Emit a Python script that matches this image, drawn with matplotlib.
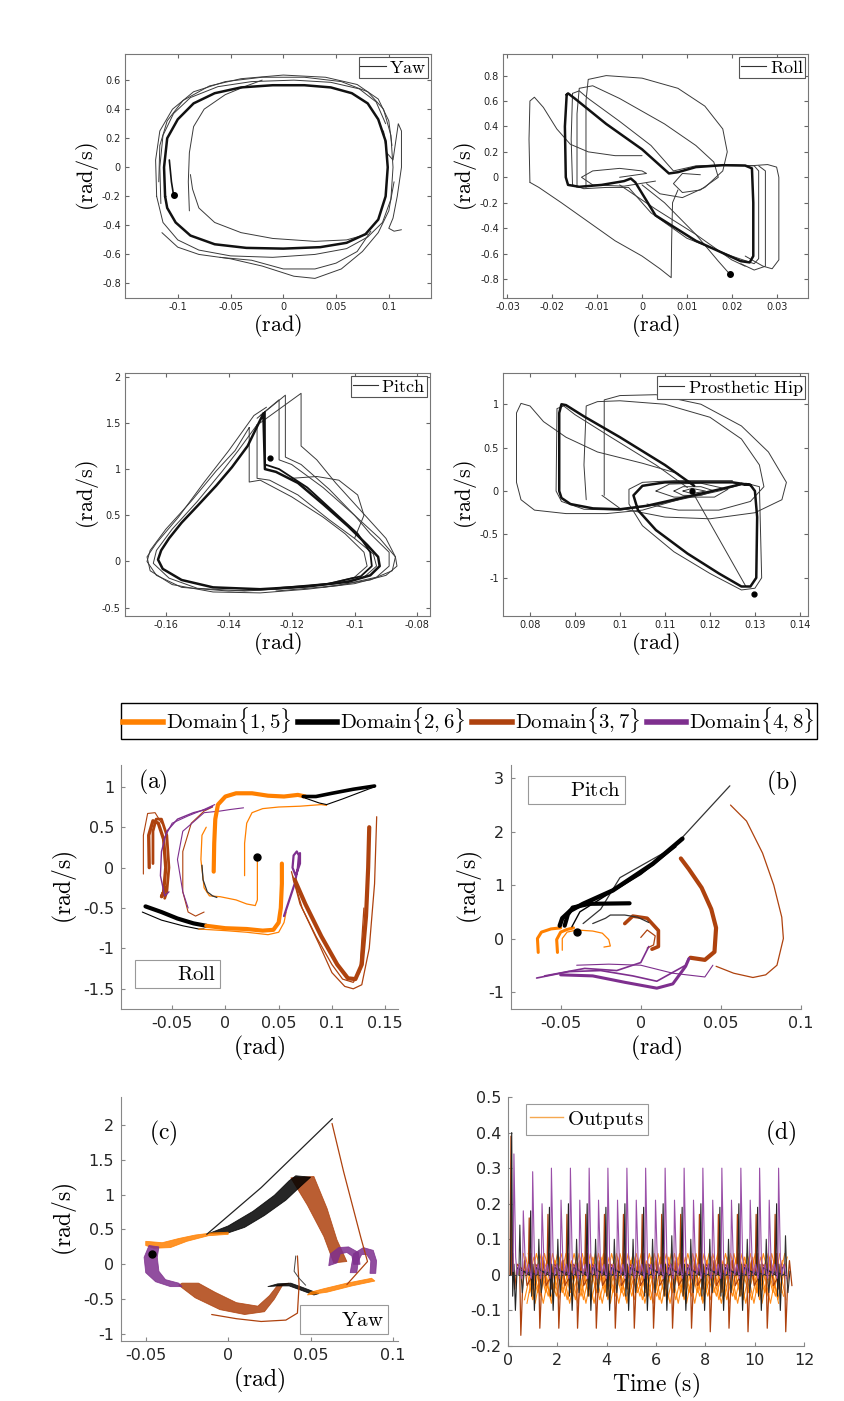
import numpy as np
import matplotlib
matplotlib.use("Agg")
import matplotlib.pyplot as plt
from matplotlib.lines import Line2D
from matplotlib.ticker import FormatStrFormatter

plt.rcParams['mathtext.fontset'] = 'cm'
plt.rcParams['font.family'] = ['DejaVu Sans']

ORANGE = '#FF8000'
BLACK = '#000000'
BROWN = '#AE420E'
PURPLE = '#7E2F8E'
GRAY = '#3a3a3a'

# ---------------- top: yaw phase portrait ----------------
yaw_main = [(-0.112, -0.2), (-0.113, 0.0), (-0.110, 0.2), (-0.100, 0.33), (-0.085, 0.44), (-0.065, 0.51),
            (-0.040, 0.55), (-0.010, 0.565), (0.020, 0.565), (0.045, 0.55), (0.065, 0.51), (0.080, 0.44),
            (0.090, 0.33), (0.097, 0.18), (0.099, 0.0), (0.097, -0.2), (0.090, -0.36), (0.078, -0.46),
            (0.060, -0.52), (0.035, -0.55), (0.000, -0.56), (-0.035, -0.555), (-0.065, -0.53),
            (-0.088, -0.47), (-0.102, -0.38), (-0.110, -0.28), (-0.112, -0.2)]
yaw_outer1 = [(-0.120, -0.2), (-0.121, 0.05), (-0.117, 0.25), (-0.105, 0.40), (-0.085, 0.52), (-0.055, 0.59),
              (-0.020, 0.62), (0.020, 0.62), (0.055, 0.59), (0.080, 0.52), (0.095, 0.40), (0.102, 0.22),
              (0.104, 0.0), (0.102, -0.22), (0.094, -0.38), (0.080, -0.48), (0.060, -0.56), (0.030, -0.60),
              (-0.010, -0.62), (-0.050, -0.61), (-0.080, -0.57), (-0.100, -0.50), (-0.114, -0.38), (-0.120, -0.2)]
yaw_outer2 = [(-0.118, -0.1), (-0.117, 0.15), (-0.110, 0.32), (-0.095, 0.46), (-0.070, 0.56), (-0.040, 0.61),
              (0.000, 0.635), (0.040, 0.62), (0.070, 0.57), (0.090, 0.47), (0.100, 0.32), (0.103, 0.15)]
yaw_outer3 = [(-0.116, -0.25), (-0.117, 0.0), (-0.114, 0.22), (-0.104, 0.37), (-0.088, 0.48), (-0.062, 0.555),
              (-0.030, 0.59), (0.010, 0.60), (0.045, 0.585), (0.072, 0.54), (0.088, 0.45), (0.097, 0.30)]
yaw_spur = [(0.095, 0.25), (0.098, 0.1), (0.104, 0.05), (0.107, 0.2), (0.109, 0.3), (0.112, 0.25), (0.112, 0.0),
            (0.108, -0.2), (0.104, -0.35), (0.100, -0.42), (0.105, -0.44), (0.112, -0.43)]
yaw_dip1 = [(0.105, -0.1), (0.100, -0.3), (0.090, -0.45), (0.075, -0.58), (0.055, -0.70), (0.030, -0.765),
            (0.010, -0.75), (-0.020, -0.68), (-0.050, -0.63), (-0.080, -0.60), (-0.100, -0.55), (-0.115, -0.45)]
yaw_dip2 = [(0.083, -0.44), (0.070, -0.58), (0.050, -0.66), (0.030, -0.70), (0.000, -0.70), (-0.030, -0.64),
            (-0.060, -0.62)]
yaw_inner_up = [(-0.089, -0.30), (-0.090, -0.1), (-0.089, 0.1), (-0.085, 0.28), (-0.075, 0.40), (-0.055, 0.50),
                (-0.035, 0.56), (-0.020, 0.60)]
yaw_inner_down = [(-0.088, -0.05), (-0.086, -0.15), (-0.080, -0.28), (-0.065, -0.38), (-0.040, -0.45),
                  (-0.010, -0.49), (0.030, -0.51), (0.060, -0.50), (0.080, -0.46)]
yaw_start = [(-0.104, -0.19), (-0.106, -0.1), (-0.108, 0.05)]
yaw_dot = (-0.104, -0.19)

# ---------------- top: roll phase portrait ----------------
roll_main = [(-0.0168, 0.65), (-0.0165, 0.66), (-0.015, 0.62), (-0.008, 0.42), (0.0, 0.22), (0.006, 0.03),
             (0.008, 0.04), (0.012, 0.08), (0.018, 0.095), (0.023, 0.092), (0.0245, 0.07), (0.0248, -0.2),
             (0.0248, -0.62), (0.024, -0.67), (0.022, -0.66), (0.012, -0.5), (0.003, -0.3), (-0.0015, -0.04),
             (-0.0025, -0.01), (-0.004, -0.03), (-0.009, -0.06), (-0.014, -0.075), (-0.0165, -0.06),
             (-0.017, 0.0), (-0.0172, 0.4), (-0.0168, 0.65)]
roll_loop2 = [(-0.0155, 0.66), (-0.014, 0.68), (-0.012, 0.62), (-0.005, 0.44), (0.002, 0.25), (0.007, 0.05),
              (0.012, 0.09), (0.020, 0.10), (0.025, 0.09), (0.026, 0.05), (0.026, -0.64), (0.025, -0.68),
              (0.020, -0.62), (0.010, -0.48), (0.002, -0.28), (-0.003, -0.08), (-0.008, -0.08),
              (-0.013, -0.09), (-0.0155, -0.06), (-0.0158, 0.3), (-0.0155, 0.66)]
roll_arc1 = [(-0.0145, -0.08), (-0.0145, 0.5), (-0.014, 0.70), (-0.011, 0.72), (-0.005, 0.62), (0.005, 0.42),
             (0.012, 0.25), (0.016, 0.12), (0.017, 0.0), (0.013, -0.1), (0.009, -0.12), (0.007, -0.05),
             (0.009, 0.03), (0.013, 0.02)]
roll_arc2 = [(-0.0125, -0.08), (-0.0125, 0.6), (-0.012, 0.77), (-0.008, 0.80), (0.0, 0.78), (0.008, 0.70),
             (0.014, 0.56), (0.018, 0.38), (0.019, 0.2), (0.018, 0.05), (0.014, -0.08), (0.009, -0.16),
             (0.004, -0.13), (0.001, -0.05)]
roll_left = [(-0.025, -0.04), (-0.0252, 0.3), (-0.025, 0.6), (-0.024, 0.63), (-0.022, 0.55), (-0.019, 0.38),
             (-0.016, 0.26), (-0.012, 0.2), (-0.006, 0.17), (0.0, 0.17)]
roll_drop = [(-0.025, -0.04), (-0.023, -0.08), (-0.018, -0.2), (-0.012, -0.35), (-0.006, -0.5), (0.0, -0.62),
             (0.004, -0.72), (0.0065, -0.79), (0.0066, -0.5), (0.0068, -0.2), (0.008, -0.1)]
roll_ellipse = [(-0.005, 0.0), (0.001, 0.03), (0.0, 0.05), (-0.005, 0.07), (-0.011, 0.05), (-0.0135, 0.0),
                (-0.011, -0.06), (-0.004, -0.07), (0.003, -0.03)]
roll_right1 = [(0.024, 0.09), (0.028, 0.10), (0.030, 0.08), (0.0305, 0.0), (0.0305, -0.65), (0.029, -0.72),
               (0.027, -0.70), (0.023, -0.62)]
roll_right2 = [(0.026, 0.09), (0.0275, 0.05), (0.0275, -0.70), (0.025, -0.73), (0.022, -0.68)]
roll_lower = [(-0.005, -0.06), (0.003, -0.25), (0.012, -0.45), (0.020, -0.65), (0.023, -0.70)]
roll_tail = [(0.0, -0.06), (0.005, -0.2), (0.012, -0.45), (0.017, -0.66), (0.0195, -0.76)]
roll_dot = (0.0195, -0.76)

# ---------------- top: pitch phase portrait ----------------
pitch_main = [(-0.129, 1.6), (-0.1285, 1.0), (-0.125, 0.97), (-0.118, 0.85), (-0.110, 0.62), (-0.102, 0.38),
              (-0.096, 0.18), (-0.0925, 0.05), (-0.092, -0.05), (-0.095, -0.15), (-0.102, -0.22),
              (-0.115, -0.27), (-0.130, -0.30), (-0.145, -0.28), (-0.155, -0.2), (-0.161, -0.08),
              (-0.1625, 0.02), (-0.1615, 0.12), (-0.159, 0.25), (-0.155, 0.42), (-0.150, 0.6),
              (-0.144, 0.82), (-0.139, 1.02), (-0.134, 1.25), (-0.129, 1.6)]
pitch_b = [(-0.131, 1.48), (-0.131, 0.9), (-0.127, 0.88), (-0.118, 0.72), (-0.108, 0.45), (-0.100, 0.25),
           (-0.094, 0.08), (-0.093, -0.05), (-0.097, -0.17), (-0.106, -0.24), (-0.120, -0.29), (-0.135, -0.32),
           (-0.150, -0.29), (-0.159, -0.18), (-0.164, -0.02), (-0.163, 0.12), (-0.158, 0.35), (-0.150, 0.65),
           (-0.142, 0.98), (-0.137, 1.2), (-0.131, 1.48)]
pitch_c = [(-0.1335, 1.45), (-0.1335, 0.86), (-0.130, 0.88), (-0.120, 0.70), (-0.110, 0.48), (-0.103, 0.3),
           (-0.097, 0.1), (-0.096, -0.05), (-0.100, -0.17), (-0.110, -0.25), (-0.125, -0.30), (-0.140, -0.32),
           (-0.155, -0.28), (-0.163, -0.15), (-0.166, 0.0), (-0.165, 0.12), (-0.160, 0.35), (-0.152, 0.65),
           (-0.144, 0.98), (-0.138, 1.2), (-0.1335, 1.45)]
pitch_d = [(-0.130, 1.58), (-0.124, 1.75), (-0.124, 1.1), (-0.120, 1.05), (-0.110, 0.8), (-0.100, 0.5),
           (-0.092, 0.25), (-0.087, 0.05), (-0.0865, -0.05), (-0.090, -0.15), (-0.100, -0.24), (-0.115, -0.30),
           (-0.130, -0.34), (-0.145, -0.33), (-0.158, -0.25), (-0.165, -0.1), (-0.166, 0.05), (-0.163, 0.2),
           (-0.156, 0.48), (-0.148, 0.85), (-0.140, 1.2), (-0.132, 1.58), (-0.128, 1.67)]
pitch_e = [(-0.131, 1.55), (-0.122, 1.80), (-0.122, 1.13), (-0.117, 1.05), (-0.108, 0.78), (-0.100, 0.5),
           (-0.095, 0.3), (-0.089, 0.1), (-0.089, -0.05), (-0.093, -0.17), (-0.105, -0.26), (-0.125, -0.32)]
pitch_f = [(-0.130, 1.5), (-0.117, 1.82), (-0.117, 1.25), (-0.112, 1.1), (-0.106, 0.85), (-0.098, 0.55),
           (-0.090, 0.25), (-0.087, 0.05), (-0.088, -0.1), (-0.095, -0.2), (-0.110, -0.28)]
pitch_g = [(-0.1285, 1.62), (-0.1285, 1.05), (-0.124, 1.0), (-0.115, 0.8), (-0.107, 0.55), (-0.099, 0.3),
           (-0.095, 0.1), (-0.0945, -0.05), (-0.098, -0.16), (-0.108, -0.24), (-0.125, -0.29)]
pitch_bump = [(-0.12, 0.9), (-0.112, 0.92), (-0.105, 0.88), (-0.099, 0.72), (-0.097, 0.5), (-0.1, 0.25)]
pitch_dot = (-0.127, 1.12)

# ---------------- top: prosthetic hip phase portrait ----------------
hip_main = [(0.1165, 0.06), (0.110, 0.3), (0.100, 0.62), (0.092, 0.86), (0.088, 0.99), (0.087, 1.0),
            (0.0865, 0.9), (0.0865, 0.2), (0.0865, 0.0), (0.087, -0.08), (0.089, -0.15), (0.094, -0.2),
            (0.100, -0.21), (0.106, -0.17), (0.112, -0.1), (0.118, -0.03), (0.123, 0.03), (0.127, 0.08),
            (0.129, 0.07), (0.130, 0.0), (0.1305, -0.3), (0.1303, -1.0), (0.129, -1.1), (0.127, -1.1),
            (0.122, -0.95), (0.115, -0.72), (0.108, -0.45), (0.104, -0.22), (0.103, -0.05), (0.105, 0.06),
            (0.110, 0.1), (0.118, 0.1), (0.125, 0.1), (0.129, 0.07)]
hip_b = [(0.115, 0.04), (0.108, 0.3), (0.098, 0.62), (0.090, 0.88), (0.0875, 0.98), (0.086, 0.95),
         (0.0858, 0.0), (0.087, -0.12), (0.092, -0.21), (0.100, -0.22), (0.108, -0.16), (0.115, -0.08),
         (0.122, 0.0), (0.128, 0.09), (0.131, 0.05), (0.1315, -1.0), (0.130, -1.12), (0.127, -1.14),
         (0.120, -0.95), (0.112, -0.7), (0.105, -0.4), (0.102, -0.15), (0.102, 0.02), (0.105, 0.1),
         (0.112, 0.12), (0.125, 0.12)]
hip_left = [(0.113, 0.2), (0.105, 0.32), (0.095, 0.45), (0.088, 0.62), (0.083, 0.8), (0.080, 0.98),
            (0.078, 1.01), (0.077, 0.9), (0.077, 0.1), (0.078, -0.1), (0.081, -0.22), (0.088, -0.26),
            (0.097, -0.26), (0.105, -0.22), (0.113, -0.1)]
hip_mid = [(0.0925, -0.1), (0.092, 0.3), (0.0925, 0.98), (0.095, 1.03), (0.1, 1.04), (0.11, 1.0),
           (0.12, 0.85), (0.127, 0.6), (0.131, 0.3), (0.132, 0.05), (0.129, -0.12), (0.122, -0.22),
           (0.113, -0.22), (0.106, -0.15)]
hip_outer = [(0.0965, -0.05), (0.0965, 1.05), (0.100, 1.1), (0.108, 1.11), (0.118, 1.0), (0.127, 0.75),
             (0.133, 0.45), (0.137, 0.1), (0.136, -0.1), (0.130, -0.25), (0.120, -0.32), (0.110, -0.3),
             (0.100, -0.2), (0.096, -0.05)]
hip_spiral_a = [(0.108, 0.0), (0.111, 0.08), (0.118, 0.09), (0.124, 0.02), (0.121, -0.07), (0.112, -0.07),
                (0.108, 0.0)]
hip_spiral_b = [(0.112, 0.0), (0.114, 0.05), (0.118, 0.05), (0.121, 0.0), (0.118, -0.05), (0.114, -0.05),
                (0.112, 0.0)]
hip_spiral_c = [(0.114, 0.0), (0.116, 0.03), (0.119, 0.0), (0.116, -0.03), (0.114, 0.0)]
hip_chord = [(0.116, 0.0), (0.128, -1.1)]
hip_dots = [(0.1298, -1.19), (0.116, 0.0)]

# ---------------- (a) roll by domain ----------------
a_orange_top = [(-0.011, -0.05), (-0.0105, 0.3), (-0.0095, 0.6), (-0.007, 0.78), (0.0, 0.88), (0.01, 0.92),
                (0.025, 0.92), (0.04, 0.89), (0.055, 0.88), (0.068, 0.9), (0.075, 0.88)]
a_orange_top_thin = [(0.018, -0.1), (0.018, 0.3), (0.02, 0.55), (0.025, 0.68), (0.035, 0.73), (0.05, 0.75),
                     (0.07, 0.76), (0.09, 0.78), (0.095, 0.77)]
a_black_top = [(0.073, 0.88), (0.085, 0.88), (0.1, 0.92), (0.12, 0.97), (0.14, 1.01)]
a_black_top_thin = [(0.075, 0.86), (0.088, 0.8), (0.095, 0.78), (0.11, 0.85), (0.14, 1.0)]
a_brown_mid = [(-0.012, 0.75), (-0.02, 0.7), (-0.032, 0.55), (-0.04, 0.2), (-0.04, -0.3), (-0.035, -0.55),
               (-0.028, -0.6), (-0.02, -0.55)]
a_orange_hook = [(-0.018, 0.5), (-0.022, 0.4), (-0.023, 0.1), (-0.02, -0.25), (-0.015, -0.35), (-0.005, -0.36),
                 (0.01, -0.4), (0.02, -0.45), (0.028, -0.47), (0.03, -0.4), (0.03, 0.13)]
a_black_small = [(-0.022, 0.03), (-0.021, -0.15), (-0.017, -0.3), (-0.012, -0.35), (-0.008, -0.37)]
a_purple_1 = [(-0.012, 0.76), (-0.018, 0.72), (-0.03, 0.68), (-0.045, 0.6), (-0.055, 0.45), (-0.06, 0.2),
              (-0.061, -0.1), (-0.057, -0.35), (-0.053, -0.3)]
a_purple_2 = [(-0.01, 0.78), (-0.02, 0.72), (-0.035, 0.64), (-0.05, 0.55), (-0.058, 0.35)]
a_purple_3 = [(0.017, 0.74), (0.005, 0.72), (-0.005, 0.7), (-0.02, 0.68), (-0.04, 0.45), (-0.045, 0.1),
              (-0.04, -0.3), (-0.035, -0.5)]
a_brown_left_1 = [(-0.0715, 0.0), (-0.072, 0.4), (-0.068, 0.58), (-0.063, 0.55), (-0.058, 0.35), (-0.056, 0.0),
                  (-0.058, -0.3), (-0.06, -0.36), (-0.056, -0.25)]
a_brown_left_2 = [(-0.068, 0.05), (-0.068, 0.45), (-0.065, 0.6), (-0.06, 0.6), (-0.055, 0.4), (-0.053, 0.0),
                  (-0.055, -0.3), (-0.057, -0.38)]
a_brown_left_thin = [(-0.077, -0.08), (-0.077, 0.4), (-0.073, 0.67), (-0.066, 0.68), (-0.06, 0.55)]
a_black_low = [(-0.075, -0.48), (-0.06, -0.55), (-0.045, -0.63), (-0.03, -0.69), (-0.018, -0.72)]
a_black_low_thin = [(-0.078, -0.55), (-0.06, -0.65), (-0.04, -0.72), (-0.025, -0.76), (-0.02, -0.76)]
a_orange_low = [(-0.018, -0.72), (0.0, -0.75), (0.02, -0.76), (0.035, -0.78), (0.045, -0.77), (0.05, -0.68),
                (0.052, -0.5), (0.053, -0.2), (0.053, 0.05)]
a_orange_low_thin = [(-0.025, -0.76), (0.0, -0.78), (0.02, -0.8), (0.04, -0.83), (0.05, -0.8), (0.055, -0.68),
                     (0.057, -0.55)]
a_purple_right = [(0.055, -0.6), (0.06, -0.4), (0.065, -0.2), (0.068, 0.0), (0.069, 0.15), (0.067, 0.2),
                  (0.064, 0.15), (0.063, 0.0), (0.066, -0.1), (0.07, 0.05), (0.07, 0.18)]
a_brown_u = [(0.065, -0.15), (0.075, -0.45), (0.09, -0.85), (0.105, -1.2), (0.115, -1.37), (0.122, -1.38),
             (0.128, -1.2), (0.132, -0.6), (0.134, 0.0), (0.135, 0.5)]
a_brown_u_thin = [(0.063, -0.1), (0.072, -0.5), (0.088, -0.95), (0.1, -1.3), (0.112, -1.47), (0.12, -1.5),
                  (0.128, -1.45), (0.135, -1.0), (0.14, -0.2), (0.142, 0.63)]
a_brown_u_thin2 = [(0.062, -0.05), (0.07, -0.45), (0.085, -0.85), (0.1, -1.2), (0.11, -1.38), (0.12, -1.42),
                   (0.126, -1.3), (0.13, -0.5)]
a_dot = (0.03, 0.13)

# ---------------- (b) pitch by domain ----------------
b_black_1 = [(-0.0506, 0.24), (-0.049, 0.38), (-0.044, 0.52), (-0.036, 0.65), (-0.0175, 0.9), (0.0075, 1.4),
             (0.026, 1.87)]
b_black_2 = [(-0.0475, 0.24), (-0.0455, 0.45), (-0.0425, 0.58), (-0.032, 0.65), (-0.007, 0.66)]
b_black_3 = [(-0.043, 0.22), (-0.038, 0.5), (-0.022, 0.8), (0.0, 1.2), (0.022, 1.72)]
b_black_long = [(-0.036, 0.28), (-0.025, 0.55), (-0.013, 1.14), (0.02, 1.7), (0.0556, 2.86)]
b_black_hook = [(-0.03, 0.28), (-0.022, 0.38), (-0.019, 0.44), (-0.01, 0.44), (-0.002, 0.4), (0.005, 0.3)]
b_orange_1 = [(-0.064, -0.26), (-0.0645, 0.0), (-0.062, 0.12), (-0.056, 0.18), (-0.05, 0.2)]
b_orange_2 = [(-0.052, -0.26), (-0.0525, -0.02), (-0.05, 0.12), (-0.046, 0.17), (-0.042, 0.2)]
b_orange_3 = [(-0.049, -0.22), (-0.049, 0.0), (-0.046, 0.12), (-0.04, 0.16), (-0.03, 0.14), (-0.024, 0.1),
              (-0.02, -0.02), (-0.019, -0.14), (-0.023, -0.16)]
b_brown_c = [(-0.01, 0.28), (-0.005, 0.42), (0.004, 0.38), (0.011, 0.15), (0.011, -0.15), (0.007, -0.2)]
b_brown_c_thin = [(0.0, 0.02), (0.004, 0.16), (0.009, 0.05), (0.008, -0.12), (0.004, -0.18)]
b_brown_long = [(0.025, 1.5), (0.03, 1.3), (0.038, 0.95), (0.044, 0.55), (0.047, 0.2), (0.046, -0.25),
                (0.04, -0.4), (0.031, -0.36)]
b_brown_thin = [(0.056, 2.5), (0.066, 2.2), (0.076, 1.6), (0.083, 1.0), (0.088, 0.4), (0.089, 0.0),
                (0.085, -0.5), (0.078, -0.68), (0.07, -0.73), (0.058, -0.65), (0.047, -0.52)]
b_purple_1 = [(-0.065, -0.74), (-0.045, -0.62), (-0.025, -0.6), (-0.005, -0.7), (0.01, -0.8), (0.028, -0.5),
              (0.03, -0.36)]
b_purple_2 = [(-0.05, -0.68), (-0.03, -0.7), (-0.01, -0.82), (0.01, -0.93), (0.02, -0.85), (0.028, -0.52),
              (0.03, -0.38)]
b_purple_3 = [(-0.06, -0.7), (-0.035, -0.56), (-0.015, -0.6), (0.0, -0.45), (0.005, -0.15)]
b_purple_4 = [(-0.04, -0.5), (-0.02, -0.48), (0.0, -0.5), (0.02, -0.65), (0.04, -0.72), (0.045, -0.5)]
b_dot = (-0.04, 0.13)

# ---------------- (c) yaw by domain (bands as outlines) ----------------
c_orange_band = [(-0.05, 0.33), (-0.04, 0.31), (-0.03, 0.37), (-0.02, 0.42), (-0.01, 0.45), (0.0, 0.46),
                 (0.0, 0.43), (-0.012, 0.41), (-0.025, 0.33), (-0.035, 0.24), (-0.045, 0.23), (-0.05, 0.27)]
c_black_band = [(-0.012, 0.44), (0.0, 0.55), (0.015, 0.76), (0.028, 0.99), (0.037, 1.2), (0.041, 1.27),
                (0.05, 1.25), (0.044, 1.12), (0.035, 0.92), (0.022, 0.7), (0.01, 0.53), (0.0, 0.45)]
c_black_line = [(-0.013, 0.43), (0.02, 1.1), (0.0632, 2.09)]
c_brown_band = [(0.038, 1.24), (0.052, 1.26), (0.06, 0.8), (0.066, 0.35), (0.072, 0.04), (0.064, 0.02),
                (0.058, 0.4), (0.048, 0.85)]
c_brown_line = [(0.063, 2.02), (0.07, 1.33), (0.0805, 0.38), (0.0845, 0.04), (0.072, -0.29)]
c_purple_arc1 = [(0.061, -0.02), (0.062, 0.15), (0.067, 0.24), (0.073, 0.25), (0.079, 0.17), (0.080, 0.0),
                 (0.076, 0.0), (0.075, 0.12), (0.072, 0.17), (0.068, 0.15), (0.066, 0.02)]
c_purple_arc2 = [(0.074, -0.12), (0.076, 0.15), (0.082, 0.24), (0.088, 0.2), (0.090, 0.05), (0.0895, -0.13),
                 (0.086, -0.13), (0.0865, 0.05), (0.084, 0.14), (0.081, 0.14), (0.079, 0.05), (0.078, -0.12)]
c_purple_left = [(-0.048, 0.27), (-0.051, 0.1), (-0.05, -0.12), (-0.044, -0.25), (-0.035, -0.32),
                 (-0.028, -0.32), (-0.03, -0.27), (-0.038, -0.22), (-0.042, -0.1), (-0.043, 0.1), (-0.042, 0.25)]
c_orange_low = [(0.048, -0.44), (0.06, -0.4), (0.075, -0.31), (0.089, -0.24), (0.087, -0.2), (0.072, -0.27),
                (0.058, -0.35), (0.05, -0.4)]
c_black_low = [(0.024, -0.32), (0.03, -0.28), (0.038, -0.27), (0.045, -0.33), (0.055, -0.42), (0.052, -0.44),
               (0.044, -0.37), (0.037, -0.31), (0.03, -0.31)]
c_brown_low = [(-0.028, -0.27), (-0.018, -0.27), (-0.008, -0.4), (0.005, -0.55), (0.018, -0.6), (0.025, -0.45),
               (0.03, -0.3), (0.037, -0.27), (0.033, -0.3), (0.028, -0.5), (0.022, -0.68), (0.01, -0.72),
               (-0.005, -0.65), (-0.02, -0.48), (-0.03, -0.3)]
c_brown_low_line = [(-0.01, -0.72), (0.005, -0.78), (0.02, -0.82), (0.035, -0.8), (0.042, -0.7), (0.043, -0.3),
                    (0.042, 0.12)]
c_curl = [(0.041, 0.12), (0.04, -0.1), (0.043, -0.2), (0.047, -0.3)]
c_dot = (-0.046, 0.147)

# ---------------- (d) outputs over time ----------------
purple_big_t = [1.0, 1.76, 2.53, 3.29, 4.05, 4.82, 5.58, 6.37, 7.14, 7.9, 8.67, 9.44, 10.2, 10.97]
purple_big_v = [0.29, 0.3, 0.3, 0.3, 0.3, 0.3, 0.3, 0.3, 0.3, 0.3, 0.3, 0.3, 0.3, 0.3]
purple_small_t = [0.24, 0.62, 1.38, 2.15, 2.91, 3.67, 4.44, 5.2, 5.98, 6.75, 7.52, 8.3, 9.06, 9.82, 10.59]
purple_small_v = [0.34, 0.18, 0.2, 0.21, 0.21, 0.21, 0.21, 0.21, 0.21, 0.21, 0.21, 0.21, 0.21, 0.21, 0.21]
black_hi_t = [0.15, 0.92, 1.68, 2.45, 3.21, 3.97, 4.74, 5.5, 6.29, 7.06, 7.82, 8.59, 9.36, 10.12, 10.89]
black_hi_v = [0.4, 0.18, 0.19, 0.2, 0.2, 0.19, 0.2, 0.19, 0.2, 0.19, 0.2, 0.19, 0.2, 0.19, 0.2]
black_lo_t = [0.48, 1.25, 2.02, 2.78, 3.55, 4.31, 5.07, 5.86, 6.64, 7.41, 8.18, 8.94, 9.7, 10.47, 11.25]
black_lo_v = [0.14, 0.1, 0.1, 0.1, 0.1, 0.1, 0.1, 0.1, 0.11, 0.1, 0.1, 0.1, 0.1, 0.1, 0.11]
brown_hi_t = [0.12, 0.86, 1.62, 2.39, 3.15, 3.91, 4.68, 5.44, 6.23, 7.0, 7.76, 8.53, 9.3, 10.06, 10.83]
brown_hi_v = [0.39, 0.16, 0.17, 0.17, 0.17, 0.17, 0.17, 0.17, 0.17, 0.17, 0.17, 0.17, 0.17, 0.17, 0.17]
brown_neg_t = [0.52, 1.29, 2.06, 2.82, 3.58, 4.35, 5.12, 5.9, 6.67, 7.44, 8.2, 8.96, 9.73, 10.51, 11.26]
brown_neg_v = [-0.17, -0.15, -0.15, -0.15, -0.15, -0.15, -0.15, -0.15, -0.15, -0.15, -0.16, -0.15, -0.16,
               -0.15, -0.16]
orange_swing = [0.06, -0.07, 0.05, -0.08, 0.06, -0.05, 0.04, -0.06]
# shape of each spike: (time offset, value); None stands for the spike value
purple_shape = [(-0.03, 0.01), (0.0, None), (0.07, 0.05), (0.13, 0.0), (0.22, 0.03), (0.32, -0.01)]
black_hi_shape = [(-0.05, 0.0), (0.0, None), (0.04, -0.06), (0.09, 0.03), (0.15, -0.1), (0.22, 0.02)]
black_lo_shape = [(-0.04, 0.0), (0.0, None), (0.05, 0.0), (0.1, -0.05), (0.18, 0.01)]
brown_hi_shape = [(-0.04, 0.0), (0.0, None), (0.03, 0.0), (0.08, 0.06), (0.15, -0.04), (0.25, 0.03)]
brown_neg_shape = [(-0.05, 0.03), (0.0, None), (0.08, -0.02), (0.15, 0.04), (0.25, -0.03)]
orange_offsets = [0.0, 0.05, 0.1, 0.15, 0.2, 0.25, 0.3, 0.35]

domain_labels = [r'$\mathrm{Domain}\{1,5\}$', r'$\mathrm{Domain}\{2,6\}$',
                 r'$\mathrm{Domain}\{3,7\}$', r'$\mathrm{Domain}\{4,8\}$']
domain_colors = [ORANGE, BLACK, BROWN, PURPLE]

W, H = 845, 1401
fig = plt.figure(figsize=(W / 100, H / 100), dpi=100)


def px_axes(x0, y0, x1, y1):
    return fig.add_axes([x0 / W, 1 - y1 / H, (x1 - x0) / W, (y1 - y0) / H])


def draw(ax, pts, color, lw=0.8, alpha=1.0):
    a = np.array(pts)
    ax.plot(a[:, 0], a[:, 1], color=color, lw=lw, alpha=alpha, solid_capstyle='round',
            solid_joinstyle='round')


def band(ax, pts, color):
    a = np.array(pts)
    ax.fill(a[:, 0], a[:, 1], color=color, alpha=0.85, lw=0.6, ec=color)


def spikes(times, values, shape):
    xs, ys = [], []
    for t, v in zip(times, values):
        for dt, s in shape:
            xs.append(t + dt)
            ys.append(v if s is None else s)
    return xs, ys


def cm(s):
    return r'$\mathrm{' + s.replace(' ', r'\ ') + '}$'


def style_top(ax, xlim, ylim, xt, yt, name):
    ax.set_xlim(*xlim)
    ax.set_ylim(*ylim)
    ax.set_xticks(xt)
    ax.set_yticks(yt)
    ax.xaxis.set_major_formatter(FormatStrFormatter('%g'))
    ax.yaxis.set_major_formatter(FormatStrFormatter('%g'))
    ax.tick_params(direction='in', top=True, right=True, labelsize=7, length=3,
                   color='#666666', labelcolor='#222222', pad=3)
    for sp in ax.spines.values():
        sp.set_color('#777777')
        sp.set_linewidth(0.8)
    ax.set_xlabel(cm('(rad)'), fontsize=16, labelpad=0)
    ax.set_ylabel(cm('(rad/s)'), fontsize=16, labelpad=1)
    leg = ax.legend(handles=[Line2D([], [], color='#333333', lw=0.8)], labels=[cm(name)],
                    loc='upper right', fontsize=13, fancybox=False, framealpha=1, edgecolor='#555555',
                    borderaxespad=0.15, borderpad=0.1, handlelength=1.4, handletextpad=0.2)
    leg.get_frame().set_linewidth(0.8)


def style_bottom(ax, xlim, ylim, xt, yt):
    ax.set_xlim(*xlim)
    ax.set_ylim(*ylim)
    ax.set_xticks(xt)
    ax.set_yticks(yt)
    ax.xaxis.set_major_formatter(FormatStrFormatter('%g'))
    ax.yaxis.set_major_formatter(FormatStrFormatter('%g'))
    ax.spines['top'].set_visible(False)
    ax.spines['right'].set_visible(False)
    for s in ('left', 'bottom'):
        ax.spines[s].set_color('#888888')
        ax.spines[s].set_linewidth(0.8)
    ax.tick_params(direction='in', labelsize=11.5, length=3, color='#888888', labelcolor='#262626', pad=5)


def small_legend(ax, name, loc, anchor, color='none'):
    leg = ax.legend(handles=[Line2D([], [], color=color, lw=1)], labels=[cm(name)], loc=loc,
                    bbox_to_anchor=anchor, fontsize=15, fancybox=False, framealpha=1, edgecolor='#999999',
                    borderpad=0.2, handlelength=1.6, handletextpad=0.2, borderaxespad=0)
    leg.get_frame().set_linewidth(0.8)


# ---- Yaw ----
ax = px_axes(125, 54, 431, 298)
for pts in (yaw_outer1, yaw_outer2, yaw_outer3, yaw_spur, yaw_dip1, yaw_dip2, yaw_inner_up, yaw_inner_down):
    draw(ax, pts, GRAY, 0.7)
draw(ax, yaw_main, '#111111', 1.8)
draw(ax, yaw_start, '#111111', 1.2)
ax.plot(*yaw_dot, 'o', color='k', ms=4)
style_top(ax, (-0.15, 0.14), (-0.9, 0.78), [-0.1, -0.05, 0, 0.05, 0.1],
          [-0.8, -0.6, -0.4, -0.2, 0, 0.2, 0.4, 0.6], 'Yaw')

# ---- Roll ----
ax = px_axes(503, 54, 808, 298)
for pts in (roll_loop2, roll_arc1, roll_arc2, roll_left, roll_drop, roll_ellipse, roll_right1, roll_right2,
            roll_lower, roll_tail):
    draw(ax, pts, GRAY, 0.7)
draw(ax, roll_main, '#111111', 1.8)
ax.plot(*roll_dot, 'o', color='k', ms=4)
style_top(ax, (-0.031, 0.037), (-0.95, 0.97), [-0.03, -0.02, -0.01, 0, 0.01, 0.02, 0.03],
          [-0.8, -0.6, -0.4, -0.2, 0, 0.2, 0.4, 0.6, 0.8], 'Roll')

# ---- Pitch ----
ax = px_axes(125, 373, 430, 616)
for pts in (pitch_b, pitch_c, pitch_d, pitch_e, pitch_f, pitch_bump):
    draw(ax, pts, GRAY, 0.7)
draw(ax, pitch_g, '#111111', 1.3)
draw(ax, pitch_main, '#111111', 1.8)
ax.plot(*pitch_dot, 'o', color='k', ms=3.5)
style_top(ax, (-0.173, -0.076), (-0.59, 2.04), [-0.16, -0.14, -0.12, -0.1, -0.08],
          [-0.5, 0, 0.5, 1, 1.5, 2], 'Pitch')

# ---- Prosthetic Hip ----
ax = px_axes(503, 373, 808, 616)
for pts in (hip_b, hip_left, hip_mid, hip_outer, hip_spiral_a, hip_spiral_b, hip_spiral_c, hip_chord):
    draw(ax, pts, GRAY, 0.7)
draw(ax, hip_main, '#111111', 1.8)
for d in hip_dots:
    ax.plot(*d, 'o', color='k', ms=3.5)
style_top(ax, (0.074, 0.1418), (-1.44, 1.36), [0.08, 0.09, 0.1, 0.11, 0.12, 0.13, 0.14],
          [-1, -0.5, 0, 0.5, 1], 'Prosthetic Hip')

# ---- domain legend ----
handles = [Line2D([], [], color=c, lw=4) for c in domain_colors]
leg = fig.legend(handles, domain_labels, loc='center', bbox_to_anchor=(469 / W, 1 - 721 / H), ncol=4,
                 fontsize=15, fancybox=False, framealpha=1, edgecolor='black', handlelength=1.9,
                 handletextpad=0.15, columnspacing=0.3, borderpad=0.12)
leg.get_frame().set_linewidth(1.0)

# ---- (a) Roll ----
ax = px_axes(121, 765, 398, 1009)
for pts, c, lw in [(a_brown_left_thin, BROWN, 0.8), (a_brown_left_1, BROWN, 2.4), (a_brown_left_2, BROWN, 2.0),
                   (a_brown_mid, BROWN, 0.8), (a_purple_1, PURPLE, 1.0), (a_purple_2, PURPLE, 0.8),
                   (a_purple_3, PURPLE, 0.8), (a_orange_hook, ORANGE, 0.9), (a_black_small, '#333333', 0.9),
                   (a_orange_top_thin, ORANGE, 0.9), (a_orange_top, ORANGE, 3.0), (a_black_top_thin, BLACK, 0.8),
                   (a_black_top, BLACK, 2.6), (a_black_low_thin, BLACK, 0.8), (a_black_low, BLACK, 3.0),
                   (a_orange_low_thin, ORANGE, 0.9), (a_orange_low, ORANGE, 3.0), (a_purple_right, PURPLE, 1.6),
                   (a_brown_u_thin, BROWN, 0.9), (a_brown_u_thin2, BROWN, 0.9), (a_brown_u, BROWN, 3.0)]:
    draw(ax, pts, c, lw)
ax.plot(*a_dot, 'o', color='k', ms=5)
style_bottom(ax, (-0.098, 0.162), (-1.75, 1.27), [-0.05, 0, 0.05, 0.1, 0.15], [-1.5, -1, -0.5, 0, 0.5, 1])
ax.set_xlabel(cm('(rad)'), fontsize=17, labelpad=2)
ax.set_ylabel(cm('(rad/s)'), fontsize=17, labelpad=2)
ax.text(0.06, 0.93, cm('(a)'), transform=ax.transAxes, fontsize=17, va='center')
small_legend(ax, 'Roll', 'lower left', (0.05, 0.086))

# ---- (b) Pitch ----
ax = px_axes(511, 765, 801, 1009)
for pts, c, lw in [(b_brown_thin, BROWN, 0.9), (b_brown_long, BROWN, 3.0), (b_brown_c_thin, BROWN, 0.9),
                   (b_brown_c, BROWN, 2.6), (b_purple_4, PURPLE, 0.8), (b_purple_3, PURPLE, 1.2),
                   (b_purple_1, PURPLE, 1.2), (b_purple_2, PURPLE, 2.2), (b_orange_1, ORANGE, 2.2),
                   (b_orange_2, ORANGE, 2.2), (b_orange_3, ORANGE, 0.9), (b_black_hook, '#333333', 0.9),
                   (b_black_long, '#333333', 0.9), (b_black_3, BLACK, 1.0), (b_black_2, BLACK, 3.0),
                   (b_black_1, BLACK, 3.2)]:
    draw(ax, pts, c, lw)
ax.plot(*b_dot, 'o', color='k', ms=5)
style_bottom(ax, (-0.081, 0.1), (-1.32, 3.25), [-0.05, 0, 0.05, 0.1], [-1, 0, 1, 2, 3])
ax.set_xlabel(cm('(rad)'), fontsize=17, labelpad=2)
ax.set_ylabel(cm('(rad/s)'), fontsize=17, labelpad=2)
ax.text(0.985, 0.925, cm('(b)'), transform=ax.transAxes, fontsize=17, va='center', ha='right')
small_legend(ax, 'Pitch', 'upper left', (0.06, 0.955))

# ---- (c) Yaw ----
ax = px_axes(121, 1097, 398, 1341)
draw(ax, c_brown_line, BROWN, 0.9)
draw(ax, c_brown_low_line, BROWN, 0.9)
draw(ax, c_curl, '#444444', 0.7)
draw(ax, c_black_line, '#222222', 0.9)
for pts, c in [(c_brown_band, BROWN), (c_brown_low, BROWN), (c_black_band, BLACK), (c_black_low, BLACK),
               (c_orange_band, ORANGE), (c_orange_low, ORANGE), (c_purple_arc1, PURPLE),
               (c_purple_arc2, PURPLE), (c_purple_left, PURPLE)]:
    band(ax, pts, c)
ax.plot(*c_dot, 'o', color='k', ms=5)
style_bottom(ax, (-0.065, 0.103), (-1.1, 2.4), [-0.05, 0, 0.05, 0.1], [-1, -0.5, 0, 0.5, 1, 1.5, 2])
ax.set_xlabel(cm('(rad)'), fontsize=17, labelpad=2)
ax.set_ylabel(cm('(rad/s)'), fontsize=17, labelpad=2)
ax.text(0.1, 0.85, cm('(c)'), transform=ax.transAxes, fontsize=17, va='center')
small_legend(ax, 'Yaw', 'lower right', (0.965, 0.03))

# ---- (d) Outputs ----
ax = px_axes(508, 1097, 804, 1346)
step_t = sorted(purple_big_t + purple_small_t[1:])
for k, off in enumerate(orange_offsets):
    xs = [t + off for t in step_t]
    ys = [orange_swing[(i + k) % len(orange_swing)] for i in range(len(step_t))]
    ax.plot(xs, ys, color=ORANGE, lw=0.8, alpha=0.9)
bx, by = spikes(brown_neg_t, brown_neg_v, brown_neg_shape)
ax.plot(bx, by, color=BROWN, lw=0.9)
bx, by = spikes(brown_hi_t, brown_hi_v, brown_hi_shape)
ax.plot(bx, by, color=BROWN, lw=0.9)
kx, ky = spikes(black_lo_t, black_lo_v, black_lo_shape)
ax.plot(kx, ky, color='#333333', lw=0.8)
kx, ky = spikes(black_hi_t, black_hi_v, black_hi_shape)
ax.plot(kx, ky, color='#222222', lw=0.8)
pt = sorted(zip(purple_big_t + purple_small_t, purple_big_v + purple_small_v))
px_, py_ = spikes([p[0] for p in pt], [p[1] for p in pt], purple_shape)
ax.plot(px_, py_, color='#9A4FA8', lw=0.8)
ax.plot([0, 11.3], [0, 0], color='#333333', lw=0.6, ls=(0, (2, 2)))
style_bottom(ax, (0, 12), (-0.2, 0.5), [0, 2, 4, 6, 8, 10, 12],
             [-0.2, -0.1, 0, 0.1, 0.2, 0.3, 0.4, 0.5])
ax.set_xlabel(cm('Time (s)'), fontsize=17, labelpad=2)
ax.text(0.975, 0.855, cm('(d)'), transform=ax.transAxes, fontsize=17, va='center', ha='right')
small_legend(ax, 'Outputs', 'upper left', (0.06, 0.97), color='#F5A850')

fig.savefig('out.png', dpi=100)
